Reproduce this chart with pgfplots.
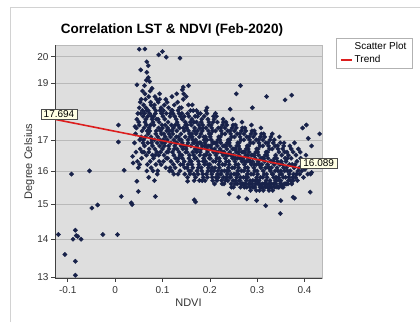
\documentclass[border=0pt]{standalone}
\usepackage{pgfplots}
\pgfplotsset{compat=1.18}
\usepackage{fontspec}
\setmainfont{Liberation Sans}
\usetikzlibrary{shadows}
\definecolor{plotbg}{RGB}{222,222,222}
\definecolor{navy}{RGB}{24,34,74}
\definecolor{trendred}{RGB}{220,30,30}
\definecolor{boxfill}{RGB}{255,255,228}
\begin{document}
\begin{tikzpicture}
\useasboundingbox (0,0) rectangle (420pt,322pt);
\draw[gray!35, line width=0.8pt] (10pt,0pt) -- (10pt,315pt) -- (420pt,315pt);
\node[font=\fontsize{13.5}{15}\selectfont\bfseries] at (172pt,292pt) {Correlation LST \& NDVI (Feb-2020)};
\begin{axis}[
  at={(55pt,44pt)}, anchor=south west,
  scale only axis, width=267pt, height=233pt,
  ymode=log,
  clip mode=individual,
  xmin=-0.127, xmax=0.437, ymin=12.98, ymax=20.46,
  axis background/.style={fill=plotbg, draw=gray!55},
  axis x line*=bottom, axis y line*=left,
  axis line style={draw=black!75, line width=0.6pt},
  tick align=outside, major tick length=4pt,
  tick style={black!75, line width=0.6pt},
  xtick={-0.1,0,0.1,0.2,0.3,0.4},
  xticklabels={-0.1,0,0.1,0.2,0.3,0.4},
  ytick={13,14,15,16,17,18,19,20},
  yticklabels={13,14,15,16,17,,19,20},
  minor tick num=0,
  ymajorgrids, major grid style={gray!55, line width=0.6pt},
  ticklabel style={font=\fontsize{10}{12}\selectfont, text=black!80},
  xticklabel style={yshift=-1pt},
  yticklabel style={xshift=1pt},
  xlabel={NDVI}, ylabel={Degree Celsius},
  label style={font=\fontsize{11}{13}\selectfont, text=black!80},
  xlabel style={yshift=2pt},
  ylabel style={yshift=-4pt},
  legend style={at={(axis description cs:1.052,1.03)}, anchor=north west,
    draw=gray!60, fill=white, font=\fontsize{10}{11}\selectfont,
    inner xsep=4pt, inner ysep=2.5pt, row sep=0pt},
  legend cell align=left,
  legend image code/.code={\draw[#1] (0pt,0pt) -- (11pt,0pt);},
]
\addplot[only marks, mark=square*, mark size=1.55pt, mark options={rotate=45, fill=navy, draw=navy}, forget plot] coordinates {
(-0.120,14.13) (-0.106,13.59) (-0.092,15.9) (-0.089,14.0) (-0.084,14.25) (-0.082,14.1) (-0.079,14.08) (-0.084,13.41) (-0.084,13.05) (-0.072,14.0)
(-0.054,16.0) (-0.049,14.88) (-0.037,14.97) (-0.026,14.13) (0.005,14.13) (0.007,17.50) (0.007,16.93) (0.013,15.22) (0.019,16.02) (0.034,15.03)
(0.036,14.98) (0.037,16.46) (0.038,16.25) (0.042,17.45) (0.046,15.68) (0.049,15.37) (0.046,18.93) (0.051,20.29) (0.063,20.3) (0.054,19.49)
(0.067,19.8) (0.070,19.65) (0.067,19.4) (0.070,19.2) (0.066,19.1) (0.073,19.05) (0.085,15.22) (0.092,20.07) (0.100,20.2) (0.108,19.98)
(0.137,19.94) (0.142,18.75) (0.144,18.85) (0.155,18.9) (0.167,15.12) (0.170,15.06) (0.153,15.68) (0.265,18.9) (0.256,18.6) (0.320,18.5)
(0.359,18.38) (0.373,18.55) (0.241,15.3) (0.261,15.2) (0.278,15.15) (0.299,15.1) (0.318,14.95) (0.349,14.72) (0.350,15.1) (0.376,15.2)
(0.379,15.17) (0.412,15.35) (0.432,17.2) (0.404,17.5) (0.396,17.4) (0.408,17.05) (0.415,16.8) (0.415,15.95) (0.401,16.05) (0.194,18.1)
(0.243,18.05) (0.290,18.1) (0.120,18.5) (0.130,18.6) (0.058,18.7) (0.062,18.9) (0.078,18.8) (0.094,18.6)
(0.041,16.9) (0.043,17.2) (0.044,16.6) (0.046,17.7) (0.047,16.3) (0.048,17.9) (0.045,17.4) (0.049,16.1)
(0.050,17.6) (0.051,18.1) (0.052,17.0) (0.053,16.7) (0.054,17.9) (0.055,18.4) (0.056,16.4) (0.057,17.3) (0.058,18.0) (0.059,16.9) (0.051,17.5) (0.053,18.3) (0.055,17.1) (0.057,16.6) (0.059,17.8) (0.052,16.2)
(0.060,18.2) (0.061,17.4) (0.062,16.8) (0.063,18.6) (0.064,17.1) (0.065,17.7) (0.066,16.5) (0.067,18.0) (0.068,17.3) (0.069,16.9) (0.060,17.0) (0.062,17.9) (0.064,18.4) (0.066,17.5) (0.068,16.2) (0.061,16.6) (0.063,17.6) (0.065,18.1) (0.067,16.0) (0.069,17.8)
(0.070,17.2) (0.071,18.5) (0.072,16.7) (0.073,17.9) (0.074,16.3) (0.075,17.5) (0.076,18.2) (0.077,16.9) (0.078,17.7) (0.079,16.5) (0.070,18.0) (0.072,17.4) (0.074,18.7) (0.076,16.1) (0.078,17.0) (0.071,16.6) (0.073,17.3) (0.075,18.3) (0.077,17.8) (0.079,16.8) (0.071,15.8) (0.076,17.1)
(0.080,17.6) (0.081,16.4) (0.082,18.1) (0.083,17.0) (0.084,16.7) (0.085,17.9) (0.086,16.2) (0.087,17.3) (0.088,18.4) (0.089,16.9) (0.080,16.0) (0.082,17.5) (0.084,18.5) (0.086,17.2) (0.088,16.6) (0.081,17.8) (0.083,18.2) (0.085,16.5) (0.087,17.7) (0.089,15.9) (0.083,15.7) (0.086,18.0)
(0.090,17.1) (0.091,18.3) (0.092,16.5) (0.093,17.6) (0.094,16.8) (0.095,18.0) (0.096,17.3) (0.097,16.2) (0.098,17.9) (0.099,16.9) (0.090,16.0) (0.092,17.4) (0.094,18.4) (0.096,16.6) (0.098,17.2) (0.091,17.7) (0.093,16.3) (0.095,17.0) (0.097,18.1) (0.099,17.5)
(0.100,16.7) (0.101,17.8) (0.102,16.3) (0.103,17.2) (0.104,18.2) (0.105,16.9) (0.106,17.5) (0.107,16.1) (0.108,17.9) (0.109,16.6) (0.100,17.4) (0.102,18.0) (0.104,16.8) (0.106,17.1) (0.108,16.4) (0.101,17.0) (0.103,16.5) (0.105,17.7) (0.107,18.4) (0.109,17.3)
(0.110,17.0) (0.111,16.4) (0.112,17.6) (0.113,18.1) (0.114,16.7) (0.115,17.3) (0.116,16.1) (0.117,17.9) (0.118,16.9) (0.119,17.5) (0.110,18.3) (0.112,16.6) (0.114,17.2) (0.116,17.8) (0.118,16.3) (0.111,17.4) (0.113,16.8) (0.115,16.0) (0.117,17.1) (0.119,18.0)
(0.120,17.3) (0.121,16.6) (0.122,17.9) (0.123,16.2) (0.124,17.0) (0.125,18.2) (0.126,16.8) (0.127,17.5) (0.128,16.4) (0.129,17.7) (0.120,16.0) (0.122,17.2) (0.124,16.5) (0.126,17.8) (0.128,16.9) (0.121,18.0) (0.123,17.4) (0.125,16.7) (0.127,16.1) (0.129,17.1) (0.124,15.9)
(0.130,16.9) (0.131,17.6) (0.132,16.3) (0.133,18.0) (0.134,17.1) (0.135,16.6) (0.136,17.4) (0.137,16.0) (0.138,17.8) (0.139,16.8) (0.130,17.3) (0.132,18.3) (0.134,16.4) (0.136,17.0) (0.138,16.2) (0.131,16.7) (0.133,17.5) (0.135,17.9) (0.137,16.5) (0.139,17.2) (0.133,15.9) (0.136,18.1)
(0.140,17.0) (0.141,16.5) (0.142,17.7) (0.143,16.2) (0.144,18.4) (0.145,16.8) (0.146,17.3) (0.147,15.9) (0.148,17.6) (0.149,16.6) (0.140,18.1) (0.142,16.9) (0.144,17.4) (0.146,16.3) (0.148,17.1) (0.141,17.9) (0.143,16.7) (0.145,18.6) (0.147,16.1) (0.149,17.5) (0.142,16.4) (0.146,17.8)
(0.150,16.7) (0.151,17.4) (0.152,16.1) (0.153,17.9) (0.154,16.9) (0.155,18.2) (0.156,16.4) (0.157,17.2) (0.158,15.9) (0.159,17.6) (0.150,18.5) (0.152,16.6) (0.154,17.0) (0.156,17.8) (0.158,16.3) (0.151,16.8) (0.153,15.8) (0.155,17.3) (0.157,16.5) (0.159,18.0) (0.152,17.5) (0.156,16.0) (0.158,17.1) (0.154,16.2)
(0.160,16.8) (0.161,17.5) (0.162,16.2) (0.163,17.1) (0.164,16.6) (0.165,18.0) (0.166,15.9) (0.167,17.3) (0.168,16.4) (0.169,17.8) (0.160,16.0) (0.162,17.7) (0.164,17.0) (0.166,16.5) (0.168,17.4) (0.161,16.3) (0.163,18.2) (0.165,16.9) (0.167,15.7) (0.169,16.7) (0.162,17.2) (0.166,17.6) (0.164,16.1) (0.168,16.9)
(0.170,17.0) (0.171,16.4) (0.172,17.6) (0.173,16.0) (0.174,17.3) (0.175,16.7) (0.176,17.9) (0.177,16.2) (0.178,16.9) (0.179,17.4) (0.170,15.8) (0.172,16.6) (0.174,17.8) (0.176,16.3) (0.178,17.1) (0.171,17.2) (0.173,16.8) (0.175,15.9) (0.177,17.5) (0.179,16.5) (0.172,18.0) (0.176,16.1) (0.174,16.9) (0.178,15.7)
(0.180,16.6) (0.181,17.2) (0.182,16.1) (0.183,17.7) (0.184,16.8) (0.185,15.9) (0.186,17.4) (0.187,16.4) (0.188,17.0) (0.189,16.2) (0.180,17.9) (0.182,16.7) (0.184,17.3) (0.186,15.8) (0.188,16.5) (0.181,16.9) (0.183,16.0) (0.185,17.5) (0.187,17.1) (0.189,16.8) (0.182,17.6) (0.186,16.3) (0.184,15.7) (0.188,17.8)
(0.190,16.9) (0.191,16.3) (0.192,17.4) (0.193,15.9) (0.194,17.0) (0.195,16.6) (0.196,17.7) (0.197,16.1) (0.198,16.8) (0.199,17.2) (0.190,15.7) (0.192,16.5) (0.194,17.9) (0.196,16.2) (0.198,17.5) (0.191,17.1) (0.193,16.7) (0.195,15.8) (0.197,17.3) (0.199,16.4) (0.192,18.0) (0.196,16.0) (0.194,16.8) (0.198,17.6)
(0.200,16.5) (0.201,17.1) (0.202,16.0) (0.203,17.5) (0.204,16.7) (0.205,15.8) (0.206,17.3) (0.207,16.3) (0.208,16.9) (0.209,17.7) (0.200,16.2) (0.202,16.8) (0.204,17.4) (0.206,15.7) (0.208,16.6) (0.201,16.4) (0.203,17.0) (0.205,16.1) (0.207,17.6) (0.209,16.0) (0.202,17.2) (0.206,16.9) (0.204,15.9) (0.208,17.8)
(0.210,16.7) (0.211,16.1) (0.212,17.3) (0.213,15.8) (0.214,16.9) (0.215,16.4) (0.216,17.6) (0.217,16.0) (0.218,16.6) (0.219,17.1) (0.210,15.6) (0.212,16.3) (0.214,17.8) (0.216,16.8) (0.218,17.4) (0.211,16.9) (0.213,16.5) (0.215,15.7) (0.217,17.0) (0.219,16.2) (0.212,17.9) (0.216,15.9) (0.214,16.6) (0.218,15.8)
(0.220,16.4) (0.221,17.0) (0.222,15.9) (0.223,17.4) (0.224,16.6) (0.225,15.7) (0.226,17.2) (0.227,16.2) (0.228,16.8) (0.229,17.6) (0.220,16.1) (0.222,16.7) (0.224,17.3) (0.226,15.6) (0.228,16.5) (0.221,16.3) (0.223,16.9) (0.225,16.0) (0.227,17.5) (0.229,15.8) (0.222,17.1) (0.226,16.6) (0.224,15.9) (0.228,17.7)
(0.230,16.6) (0.231,16.0) (0.232,17.2) (0.233,15.7) (0.234,16.8) (0.235,16.3) (0.236,17.5) (0.237,15.9) (0.238,16.5) (0.239,17.0) (0.230,15.6) (0.232,16.2) (0.234,17.6) (0.236,16.7) (0.238,17.3) (0.231,16.8) (0.233,16.4) (0.235,15.8) (0.237,16.9) (0.239,16.1) (0.232,17.4) (0.236,16.0) (0.234,16.5) (0.238,15.7)
(0.240,16.3) (0.241,16.9) (0.242,15.8) (0.243,17.3) (0.244,16.5) (0.245,15.6) (0.246,17.1) (0.247,16.1) (0.248,16.7) (0.249,17.5) (0.240,16.0) (0.242,16.6) (0.244,17.2) (0.246,15.5) (0.248,16.4) (0.241,16.2) (0.243,16.8) (0.245,15.9) (0.247,17.4) (0.249,15.7) (0.242,17.0) (0.246,16.5) (0.244,15.8) (0.248,17.7) (0.240,16.9)
(0.250,16.5) (0.251,15.9) (0.252,17.1) (0.253,15.6) (0.254,16.7) (0.255,16.2) (0.256,17.4) (0.257,15.8) (0.258,16.4) (0.259,16.9) (0.250,15.5) (0.252,16.1) (0.254,17.5) (0.256,16.6) (0.258,17.2) (0.251,16.7) (0.253,16.3) (0.255,15.7) (0.257,16.8) (0.259,16.0) (0.252,17.3) (0.256,15.9) (0.254,16.4) (0.258,15.6)
(0.260,16.2) (0.261,16.8) (0.262,15.7) (0.263,17.2) (0.264,16.4) (0.265,15.5) (0.266,17.0) (0.267,16.0) (0.268,16.6) (0.269,17.4) (0.260,15.9) (0.262,16.5) (0.264,17.1) (0.266,15.6) (0.268,16.3) (0.261,16.1) (0.263,16.7) (0.265,15.8) (0.267,17.3) (0.269,15.6) (0.262,16.9) (0.266,16.4) (0.264,15.7) (0.268,17.6) (0.260,16.6)
(0.270,16.4) (0.271,15.8) (0.272,17.0) (0.273,15.5) (0.274,16.6) (0.275,16.1) (0.276,17.3) (0.277,15.7) (0.278,16.3) (0.279,16.8) (0.270,15.6) (0.272,16.0) (0.274,17.4) (0.276,16.5) (0.278,17.1) (0.271,16.6) (0.273,16.2) (0.275,15.6) (0.277,16.7) (0.279,15.9) (0.272,17.2) (0.276,15.8) (0.274,16.3) (0.278,15.5)
(0.280,16.1) (0.281,16.7) (0.282,15.6) (0.283,17.1) (0.284,16.3) (0.285,15.5) (0.286,16.9) (0.287,15.9) (0.288,16.5) (0.289,17.3) (0.280,15.8) (0.282,16.4) (0.284,17.0) (0.286,15.4) (0.288,16.2) (0.281,16.0) (0.283,16.6) (0.285,15.7) (0.287,17.2) (0.289,15.6) (0.282,16.8) (0.286,16.3) (0.284,15.6) (0.288,17.5) (0.280,16.5)
(0.290,16.3) (0.291,15.7) (0.292,16.9) (0.293,15.5) (0.294,16.5) (0.295,16.0) (0.296,17.2) (0.297,15.6) (0.298,16.2) (0.299,16.7) (0.290,15.5) (0.292,15.9) (0.294,17.3) (0.296,16.4) (0.298,17.0) (0.291,16.5) (0.293,16.1) (0.295,15.5) (0.297,16.6) (0.299,15.8) (0.292,17.1) (0.296,15.7) (0.294,16.2) (0.298,15.4)
(0.300,16.0) (0.301,16.6) (0.302,15.6) (0.303,17.0) (0.304,16.2) (0.305,15.4) (0.306,16.8) (0.307,15.8) (0.308,16.4) (0.309,17.2) (0.300,15.7) (0.302,16.3) (0.304,16.9) (0.306,15.5) (0.308,16.1) (0.301,15.9) (0.303,16.5) (0.305,15.6) (0.307,17.1) (0.309,15.5) (0.302,16.7) (0.306,16.2) (0.304,15.7) (0.308,17.4)
(0.310,16.2) (0.311,15.6) (0.312,16.8) (0.313,15.4) (0.314,16.4) (0.315,15.9) (0.316,17.1) (0.317,15.5) (0.318,16.1) (0.319,16.6) (0.310,15.5) (0.312,15.8) (0.314,17.2) (0.316,16.3) (0.318,16.9) (0.311,16.4) (0.313,16.0) (0.315,15.6) (0.317,16.5) (0.319,15.7) (0.312,17.0) (0.316,15.6)
(0.320,15.9) (0.321,16.5) (0.322,15.5) (0.323,16.9) (0.324,16.1) (0.325,15.4) (0.326,16.7) (0.327,15.7) (0.328,16.3) (0.329,17.1) (0.320,15.6) (0.322,16.2) (0.324,16.8) (0.326,15.5) (0.328,16.0) (0.321,15.8) (0.323,16.4) (0.325,15.6) (0.327,17.0) (0.329,15.5) (0.322,16.6) (0.326,16.1)
(0.330,16.1) (0.331,15.5) (0.332,16.7) (0.333,15.4) (0.334,16.3) (0.335,15.8) (0.336,17.0) (0.337,15.5) (0.338,16.0) (0.339,16.5) (0.330,15.6) (0.332,15.9) (0.334,16.9) (0.336,16.2) (0.338,16.8) (0.331,16.3) (0.333,15.9) (0.335,15.6) (0.337,16.4) (0.339,15.7) (0.332,17.2) (0.336,15.6)
(0.340,15.8) (0.341,16.4) (0.342,15.5) (0.343,16.8) (0.344,16.0) (0.345,15.5) (0.346,16.6) (0.347,15.7) (0.348,16.2) (0.349,16.9) (0.340,15.6) (0.342,16.1) (0.344,16.7) (0.346,15.5) (0.348,15.9) (0.341,15.7) (0.343,16.3) (0.345,15.8) (0.347,17.1) (0.349,15.6)
(0.350,16.0) (0.351,15.6) (0.352,16.5) (0.353,15.5) (0.354,16.2) (0.355,15.8) (0.356,16.8) (0.357,15.6) (0.358,16.0) (0.359,16.4) (0.350,15.7) (0.352,15.9) (0.354,16.7) (0.356,16.1) (0.358,16.6) (0.351,16.3) (0.355,15.5) (0.357,16.9)
(0.360,15.8) (0.361,16.3) (0.362,15.6) (0.363,16.6) (0.364,16.0) (0.365,15.6) (0.366,16.5) (0.367,15.8) (0.368,16.2) (0.369,16.8) (0.360,15.6) (0.362,16.1) (0.364,16.4) (0.366,15.7) (0.368,15.9)
(0.370,16.0) (0.371,15.7) (0.372,16.4) (0.373,15.6) (0.374,16.2) (0.375,15.8) (0.376,16.6) (0.377,15.9) (0.378,16.1) (0.379,16.9) (0.372,16.7) (0.376,15.7)
(0.380,16.2) (0.381,15.8) (0.382,16.5) (0.383,15.9) (0.384,16.3) (0.386,16.0) (0.387,16.7) (0.389,16.1) (0.385,15.7)
(0.390,15.9) (0.392,16.4) (0.394,16.0) (0.396,16.2) (0.398,15.8) (0.391,16.6)
(0.401,16.1) (0.403,16.5) (0.405,16.3) (0.407,15.9) (0.410,16.2) (0.413,15.9)
};
\addplot[draw=trendred, line width=1.6pt, forget plot] coordinates {(-0.127,17.694) (0.391,16.089)};
\addlegendimage{draw opacity=0}
\addlegendentry{Scatter Plot}
\addlegendimage{draw=trendred, line width=1.6pt}
\addlegendentry{Trend}
\node[fill=boxfill, draw=black!70, drop shadow={shadow xshift=1pt, shadow yshift=-1pt, fill=black!40}, font=\fontsize{10}{11}\selectfont, inner xsep=3pt, inner ysep=1.5pt, anchor=south, xshift=4pt] at (axis cs:-0.127,17.694) {17.694};
\node[fill=boxfill, draw=black!70, drop shadow={shadow xshift=1pt, shadow yshift=-1pt, fill=black!40}, font=\fontsize{10}{11}\selectfont, inner xsep=3pt, inner ysep=1.5pt, anchor=south west] at (axis cs:0.391,16.089) {16.089};
\end{axis}
\end{tikzpicture}
\end{document}
